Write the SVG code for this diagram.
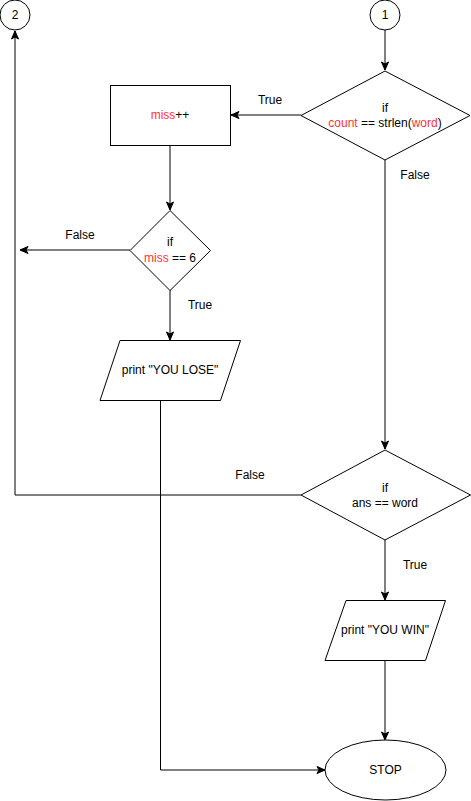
<svg xmlns="http://www.w3.org/2000/svg" width="471" height="801" viewBox="0 0 471 801">
<style>
.s{fill:#fff;stroke:#000;stroke-width:1}
.c{fill:none;stroke:#000;stroke-width:1}
text{font-family:"Liberation Sans",Arial,sans-serif;font-size:12px;fill:#000;text-anchor:middle;dominant-baseline:central}
.r{fill:#FF3333}
</style>
<defs>
<marker id="a" markerUnits="userSpaceOnUse" markerWidth="10" markerHeight="10" viewBox="0 0 10 10" refX="9" refY="5" orient="auto">
<path d="M1,1.5 L9,5 L1,8.5 L3,5 z" fill="#000" stroke="#000" stroke-width="1"/>
</marker>
</defs>
<rect width="471" height="801" fill="#fff"/>
<g id="connectors">
<path class="c" d="M385,30 V70" marker-end="url(#a)"/>
<path class="c" d="M301,115 H231" marker-end="url(#a)"/>
<path class="c" d="M385,160 V449" marker-end="url(#a)"/>
<path class="c" d="M170,145 V210" marker-end="url(#a)"/>
<path class="c" d="M130,250 H20" marker-end="url(#a)"/>
<path class="c" d="M170,290 V340" marker-end="url(#a)"/>
<path class="c" d="M160.5,400 V770 H325" marker-end="url(#a)"/>
<path class="c" d="M301,495 H15 V31" marker-end="url(#a)"/>
<path class="c" d="M385,540 V600" marker-end="url(#a)"/>
<path class="c" d="M385,660 V740" marker-end="url(#a)"/>
<text x="270" y="100">True</text>
<text x="415" y="175">False</text>
<text x="80" y="235">False</text>
<text x="200" y="305">True</text>
<text x="250" y="475">False</text>
<text x="415" y="565">True</text>
</g>
<g id="c2"><circle class="s" cx="15" cy="15" r="15"/><text x="15" y="15">2</text></g>
<g id="c1"><circle class="s" cx="385" cy="15" r="15"/><text x="385" y="15">1</text></g>
<g id="d1"><polygon class="s" points="385,71 470,115.5 385,160 301,115.5"/>
<text x="385" y="108">if</text>
<text x="385" y="123"><tspan class="r">count</tspan> == strlen(<tspan class="r">word</tspan>)</text></g>
<g id="miss"><rect class="s" x="110.5" y="85.5" width="120" height="60"/><text x="170" y="115"><tspan class="r">miss</tspan>++</text></g>
<g id="d2"><polygon class="s" points="170,210.5 210.5,250.5 170,290.5 130,250.5"/>
<text x="170" y="242">if</text>
<text x="170" y="258"><tspan class="r">miss</tspan> == 6</text></g>
<g id="lose"><polygon class="s" points="120,340.5 240.5,340.5 220.5,400.5 100,400.5"/><text x="170" y="370">print "YOU LOSE"</text></g>
<g id="d3"><polygon class="s" points="385,450 470.5,495 385,540 301,495"/>
<text x="385" y="488">if</text>
<text x="385" y="503">ans == word</text></g>
<g id="win"><polygon class="s" points="346,600.5 445.5,600.5 425.5,660.5 325,660.5"/><text x="385" y="630">print "YOU WIN"</text></g>
<g id="stop"><ellipse class="s" cx="385.5" cy="770" rx="60.5" ry="30"/><text x="385.5" y="770">STOP</text></g>
</svg>
